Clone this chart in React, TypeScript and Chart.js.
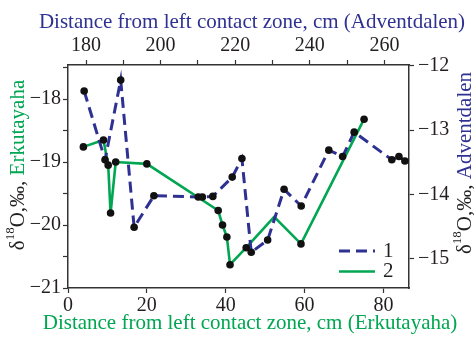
import { useEffect, useRef } from 'react';
import { Chart, registerables } from 'chart.js';

Chart.register(...registerables);

// Erkutayaha profile (bottom / left axes)
const erkDist = [3.9, 9.0, 10.2, 10.8, 12.1, 20.0, 38.1, 39.2, 40.3, 41.1, 45.2, 52.3, 59.1, 75.1];
const erkD18O = [-18.76, -18.65, -19.05, -19.81, -19.0, -19.03, -19.77, -20.0, -20.19, -20.63, -20.36, -19.87, -20.3, -18.32];
const erkMarked = [true, true, true, true, true, true, true, true, true, true, true, false, true, true];

// Adventdalen profile (top / right axes)
const advDist = [179.5, 185.1, 189.3, 192.9, 198.2, 210.1, 211.2, 214.0, 219.2, 221.8, 224.3, 228.7, 233.1, 237.7, 245.1, 248.8, 251.9, 262.0, 263.9, 265.5];
const advD18O = [-12.39, -13.46, -12.22, -14.51, -14.02, -14.04, -14.04, -14.03, -13.73, -13.44, -14.9, -14.71, -13.92, -14.18, -13.31, -13.41, -13.03, -13.46, -13.41, -13.48];

// Axis ranges and labelled ticks
const erkDistRange = [0, 86.5];
const erkD18ORange = [-21, -17.46];
const advDistRange = [175.17, 266.6];
const advD18ORange = [-15.456, -11.985];
const erkDistLabels = [0, 20, 40, 60, 80];
const erkD18OLabels = [-21, -20, -19, -18];
const advDistLabels = [180, 200, 220, 240, 260];
const advD18OLabels = [-15, -14, -13, -12];

const legendLabels = ['1', '2'];

const SERIF = '"Liberation Serif", "Times New Roman", serif';
const BLUE = '#2e3192';
const GREEN = '#00a651';
const INK = '#231f20';
const AXIS = '#333333';

const W = 474;
const H = 337;

type Part = { text: string; color: string; size: number; rise?: number };

function richWidth(ctx: CanvasRenderingContext2D, parts: Part[]) {
  let w = 0;
  for (const p of parts) {
    ctx.font = `${p.size}px ${SERIF}`;
    w += ctx.measureText(p.text).width;
  }
  return w;
}

// Draws a run of differently styled text centred on (cx, cy), optionally rotated.
function drawRich(ctx: CanvasRenderingContext2D, parts: Part[], cx: number, cy: number, angle: number) {
  ctx.save();
  ctx.translate(cx, cy);
  ctx.rotate(angle);
  ctx.textBaseline = 'middle';
  ctx.textAlign = 'left';
  let x = -richWidth(ctx, parts) / 2;
  for (const p of parts) {
    ctx.font = `${p.size}px ${SERIF}`;
    ctx.fillStyle = p.color;
    ctx.fillText(p.text, x, -(p.rise || 0));
    x += ctx.measureText(p.text).width;
  }
  ctx.restore();
}

const minus = (v: number) => (v < 0 ? '\u2212' + Math.abs(v) : String(v));

const decorations = {
  id: 'decorations',
  afterDraw(chart: any) {
    const ctx: CanvasRenderingContext2D = chart.ctx;
    const ca = chart.chartArea;

    drawRich(ctx, [{ text: 'Distance from left contact zone, cm (Adventdalen)', color: BLUE, size: 21 }], 252, 22, 0);
    drawRich(ctx, [{ text: 'Distance from left contact zone, cm (Erkutayaha)', color: GREEN, size: 21 }], 250, 323, 0);

    drawRich(
      ctx,
      [
        { text: '\u03b4', color: INK, size: 21 },
        { text: '18', color: INK, size: 13, rise: 7 },
        { text: 'O,\u2030, ', color: INK, size: 21 },
        { text: 'Erkutayaha', color: GREEN, size: 21 },
      ],
      18,
      165,
      -Math.PI / 2
    );
    drawRich(
      ctx,
      [
        { text: '\u03b4', color: INK, size: 21 },
        { text: '18', color: INK, size: 13, rise: 7 },
        { text: 'O,\u2030, ', color: INK, size: 21 },
        { text: 'Adventdalen', color: BLUE, size: 21 },
      ],
      465,
      163,
      -Math.PI / 2
    );

    // legend
    const styles = [
      { color: BLUE, dash: [11, 6], width: 3 },
      { color: GREEN, dash: [] as number[], width: 2.6 },
    ];
    const rows = [ca.bottom - 37, ca.bottom - 16.5];
    legendLabels.forEach((label, i) => {
      const y = rows[i];
      ctx.save();
      ctx.strokeStyle = styles[i].color;
      ctx.lineWidth = styles[i].width;
      ctx.setLineDash(styles[i].dash);
      ctx.beginPath();
      ctx.moveTo(ca.right - 70, y);
      ctx.lineTo(ca.right - 34, y);
      ctx.stroke();
      ctx.restore();
      ctx.save();
      ctx.font = `21px ${SERIF}`;
      ctx.fillStyle = INK;
      ctx.textBaseline = 'middle';
      ctx.textAlign = 'left';
      ctx.fillText(label, ca.right - 26, y);
      ctx.restore();
    });
  },
};

const tickFont = { family: SERIF, size: 20 };

function axisGrid() {
  return {
    drawOnChartArea: false,
    drawTicks: true,
    tickLength: 5,
    tickColor: AXIS,
    tickWidth: 1.2,
  };
}

export default function App() {
  const ref = useRef<HTMLCanvasElement | null>(null);

  useEffect(() => {
    if (!ref.current) return;
    const erkPts = erkDist.map((x, i) => ({ x, y: erkD18O[i] }));
    const advPts = advDist.map((x, i) => ({ x, y: advD18O[i] }));

    const chart = new Chart(ref.current, {
      type: 'scatter',
      data: {
        datasets: [
          {
            label: 'Adventdalen markers',
            data: advPts,
            xAxisID: 'x2',
            yAxisID: 'y2',
            showLine: false,
            pointRadius: 3.8,
            pointBackgroundColor: '#111111',
            pointBorderWidth: 0,
            order: 0,
          },
          {
            label: 'Erkutayaha markers',
            data: erkPts,
            xAxisID: 'x',
            yAxisID: 'y',
            showLine: false,
            pointRadius: erkMarked.map((m) => (m ? 3.8 : 0)),
            pointBackgroundColor: '#111111',
            pointBorderWidth: 0,
            order: 0,
          },
          {
            label: '1',
            data: advPts,
            xAxisID: 'x2',
            yAxisID: 'y2',
            showLine: true,
            borderColor: BLUE,
            borderWidth: 3,
            borderDash: [11, 6],
            pointRadius: 0,
            order: 1,
          },
          {
            label: '2',
            data: erkPts,
            xAxisID: 'x',
            yAxisID: 'y',
            showLine: true,
            borderColor: GREEN,
            borderWidth: 2.6,
            pointRadius: 0,
            order: 2,
          },
        ],
      },
      options: {
        animation: false,
        responsive: true,
        maintainAspectRatio: false,
        layout: { padding: 0 },
        plugins: {
          legend: { display: false },
          tooltip: { enabled: false },
          title: { display: false },
        },
        scales: {
          x: {
            type: 'linear',
            position: 'bottom',
            min: erkDistRange[0],
            max: erkDistRange[1],
            grid: axisGrid(),
            border: { color: AXIS, width: 1.5 },
            ticks: {
              stepSize: 20,
              includeBounds: false,
              autoSkip: false,
              maxRotation: 0,
              padding: 1,
              color: INK,
              font: tickFont,
              callback: (v: any) => (erkDistLabels.includes(Number(v)) ? String(v) : ''),
            },
            afterFit: (s: any) => {
              s.height = 49;
            },
          },
          x2: {
            type: 'linear',
            position: 'top',
            min: advDistRange[0],
            max: advDistRange[1],
            grid: axisGrid(),
            border: { color: AXIS, width: 1.5 },
            ticks: {
              stepSize: 10,
              includeBounds: false,
              autoSkip: false,
              maxRotation: 0,
              padding: 2,
              color: INK,
              font: tickFont,
              callback: (v: any) => (advDistLabels.includes(Number(v)) ? String(v) : ''),
            },
            afterFit: (s: any) => {
              s.height = 65;
            },
          },
          y: {
            type: 'linear',
            position: 'left',
            min: erkD18ORange[0],
            max: erkD18ORange[1],
            grid: axisGrid(),
            border: { color: AXIS, width: 1.5 },
            ticks: {
              stepSize: 0.5,
              includeBounds: false,
              autoSkip: false,
              padding: 2,
              color: INK,
              font: tickFont,
              callback: (v: any) => (erkD18OLabels.includes(Number(v)) ? minus(Number(v)) : ''),
            },
            afterFit: (s: any) => {
              s.width = 68;
            },
          },
          y2: {
            type: 'linear',
            position: 'right',
            min: advD18ORange[0],
            max: advD18ORange[1],
            grid: axisGrid(),
            border: { color: AXIS, width: 1.5 },
            ticks: {
              stepSize: 1,
              includeBounds: false,
              autoSkip: false,
              padding: 4,
              color: INK,
              font: tickFont,
              callback: (v: any) => (advD18OLabels.includes(Number(v)) ? minus(Number(v)) : ''),
            },
            afterFit: (s: any) => {
              s.width = 65;
            },
          },
        },
      },
      plugins: [decorations],
    });

    return () => chart.destroy();
  }, []);

  return (
    <div style={{ position: 'fixed', left: 0, top: 0, width: W, height: H, background: '#ffffff' }}>
      <canvas ref={ref} />
    </div>
  );
}
